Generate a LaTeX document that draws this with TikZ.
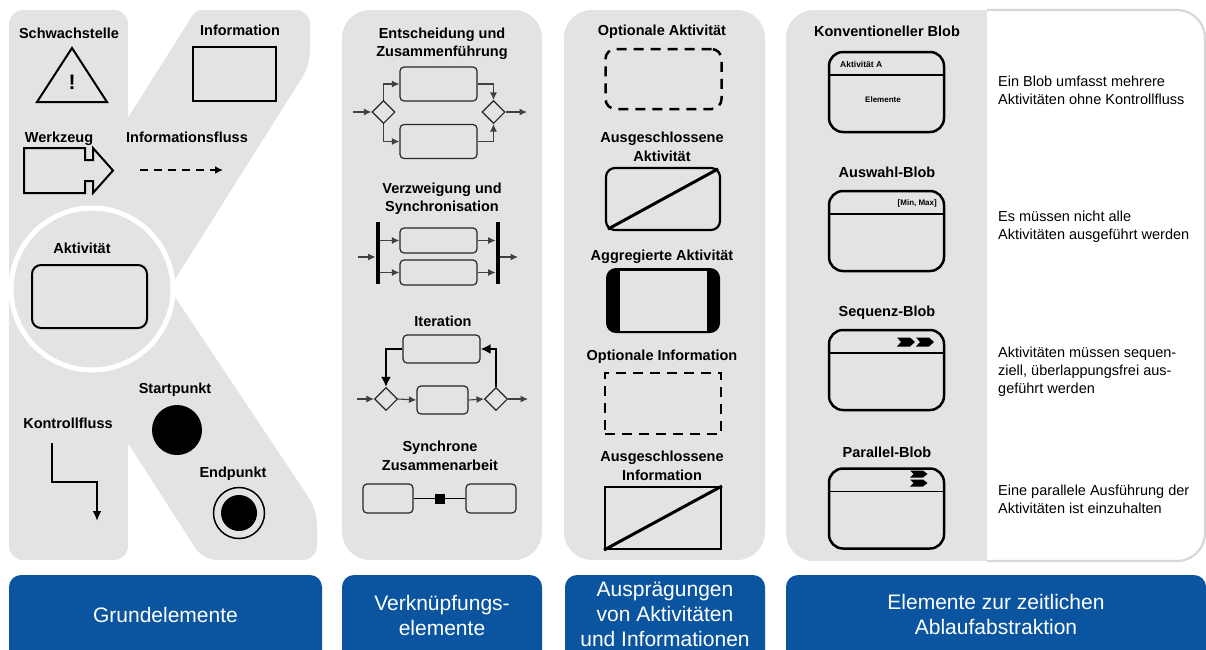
\documentclass[tikz,border=0pt]{standalone}
\usepackage{fontspec}
\setmainfont{Liberation Sans}
\usetikzlibrary{arrows.meta,shapes.geometric}
\definecolor{panelgray}{RGB}{227,227,227}
\definecolor{boxblue}{RGB}{11,85,160}
\definecolor{edgegray}{RGB}{215,215,215}
\begin{document}
\begin{tikzpicture}[x=1pt,y=-1pt,
  lbl/.style={font=\bfseries\fontsize{14.5}{18.5}\selectfont, align=center, inner sep=0pt},
  desc/.style={font=\fontsize{14.5}{18}\selectfont, align=left, inner sep=0pt, anchor=west},
  bluelbl/.style={font=\fontsize{21}{25}\selectfont, text=white, align=center, inner sep=0pt},
  bluebox/.style={fill=boxblue},
  sbox/.style={draw=black!85, line width=1.2pt, rounded corners=4pt, inner sep=0pt},
  gate/.style={diamond, draw=black!85, line width=1.1pt, fill=panelgray, inner sep=0pt, minimum width=23pt, minimum height=23pt},
  conn/.style={draw=black!75, line width=1.1pt, -{Latex[length=7.5pt,width=7pt]}},
  loopc/.style={draw=black, line width=2pt, -{Latex[length=10pt,width=10pt]}},
  bar/.style={fill=black, inner sep=0pt, minimum width=4.5pt, minimum height=62pt},
  thick2/.style={draw, line width=2pt},
  dashbox/.style={draw, line width=2.5pt, dash pattern=on 10pt off 7pt, inner sep=0pt},
  blob/.style={draw, line width=2.5pt, rounded corners=14pt, inner sep=0pt, minimum width=115pt, minimum height=80pt},
  sep/.style={line width=1.5pt},
  small/.style={font=\bfseries\fontsize{8}{9}\selectfont, inner sep=0pt}
]
\useasboundingbox (0,0) rectangle (1206,649);

% ---------- Panel 1: the K ----------
\fill[panelgray, rounded corners=14pt] (9,10) rectangle (128,560);
\fill[panelgray] (253,10) [rounded corners=14pt] -- (310,10) -- (310,65) [sharp corners] -- (172,284) -- (92,289) -- (100,162) [rounded corners=6pt] -- (196,10) -- cycle;
\fill[panelgray] (92,289) -- (172.6,293.5) [rounded corners=14pt] -- (317,510) -- (317,560) -- (203,560) [sharp corners] -- (110,415) -- cycle;
\draw[white, line width=5pt, fill=panelgray] (92,289) circle (81pt);

\node[lbl] (lschw) at (69,33) {Schwachstelle};
\draw[line width=2pt] (72,48) -- (107,102) -- (37,102) -- cycle;
\node[font=\bfseries\fontsize{21}{21}\selectfont, inner sep=0pt] (excl) at (72,82) {!};

\node[lbl] (linfo) at (240,30) {Information};
\node[thick2, minimum width=83pt, minimum height=54pt, inner sep=0pt] (info) at (234.5,74) {};

\node[lbl] (lwerk) at (59,138.5) {Werkzeug};
\draw[line width=2pt] (24,148) -- (85,148) -- (85,160) -- (93,160) -- (93,148) -- (113,170.5) -- (93,193) -- (93,181) -- (85,181) -- (85,193) -- (24,193) -- cycle;

\node[lbl] (lfluss) at (187,137) {Informationsfluss};
\coordinate (f1) at (140,170);
\coordinate (f2) at (223,170);
\draw[line width=2.5pt, dash pattern=on 8pt off 6pt, -{Latex[length=8pt,width=8pt]}] (f1) -- (f2);

\node[lbl] (lakt) at (82,248) {Aktivität};
\node[thick2, rounded corners=9pt, minimum width=115pt, minimum height=63pt, inner sep=0pt] (akt) at (89.5,296.5) {};

\node[lbl] (lkontr) at (68,423) {Kontrollfluss};
\coordinate (k1) at (52,443);
\coordinate (k2) at (97,521);
\draw[line width=2pt, -{Latex[length=10pt,width=9pt]}] (k1) -- ++(0,39) -| (k2);

\node[lbl] (lstart) at (175,389.5) {Startpunkt};
\node[circle, fill=black, minimum size=50pt, inner sep=0pt] (start) at (177,430) {};

\node[lbl] (lend) at (233,473.5) {Endpunkt};
\node[circle, draw, line width=1.5pt, minimum size=51pt, inner sep=0pt] (endo) at (239,513) {};
\node[circle, fill=black, minimum size=36pt, inner sep=0pt] (endi) at (endo) {};

% ---------- Panel 2 ----------
\fill[panelgray, rounded corners=28pt] (342,10) rectangle (542,560);

\node[lbl] (lent) at (442,44) {Entscheidung und\\Zusammenführung};
\node[sbox, minimum width=77pt, minimum height=34pt] (d1) at (438.5,84) {};
\node[sbox, minimum width=77pt, minimum height=34pt] (d2) at (438.5,141.5) {};
\node[gate] (dl) at (383.5,112) {};
\node[gate] (dr) at (493.5,112) {};
\coordinate (din) at (353,112);
\coordinate (dout) at (527,112);
\draw[conn] (din) -- (dl.west);
\draw[conn] (dl.north) |- (d1.west);
\draw[conn] (dl.south) |- (d2.west);
\draw[conn] (d1.east) -| (dr.north);
\draw[conn] (d2.east) -| (dr.south);
\draw[conn] (dr.east) -- (dout);

\node[lbl] (lverz) at (442,198.5) {Verzweigung und\\Synchronisation};
\node[sbox, minimum width=77pt, minimum height=25pt] (v1) at (438.5,240.5) {};
\node[sbox, minimum width=77pt, minimum height=25pt] (v2) at (438.5,272.5) {};
\node[bar] (bl) at (378,253) {};
\node[bar] (br) at (498,253) {};
\coordinate (vin) at (358,257);
\coordinate (vout) at (518,257);
\draw[conn] (vin) -- (bl.west |- vin);
\draw[conn] (bl.east |- v1.west) -- (v1.west);
\draw[conn] (bl.east |- v2.west) -- (v2.west);
\draw[conn] (v1.east) -- (br.west |- v1.east);
\draw[conn] (v2.east) -- (br.west |- v2.east);
\draw[conn] (br.east |- vout) -- (vout);

\node[lbl] (liter) at (443,321) {Iteration};
\node[sbox, minimum width=77pt, minimum height=28pt] (i0) at (441.5,349) {};
\node[sbox, minimum width=51pt, minimum height=28pt] (im) at (442.5,400) {};
\node[gate] (il) at (386,399) {};
\node[gate] (ir) at (496,399) {};
\coordinate (iin) at (357,399);
\coordinate (iout) at (528,399);
\draw[conn] (iin) -- (il.west);
\draw[conn] (il.east) -- (im.west);
\draw[conn] (im.east) -- (ir.west);
\draw[conn] (ir.east) -- (iout);
\draw[loopc] (ir.north) |- (i0.east);
\draw[loopc] (i0.west) -| (il.north);

\node[lbl] (lsync) at (440,456) {Synchrone\\Zusammenarbeit};
\node[sbox, minimum width=50pt, minimum height=29pt] (s1) at (388,498.5) {};
\node[sbox, minimum width=50pt, minimum height=29pt] (s2) at (491,498.5) {};
\draw[line width=1.2pt] (s1.east) -- (s2.west);
\node[fill=black, minimum size=10pt, inner sep=0pt] (sq) at (440,498.5) {};

% ---------- Panel 3 ----------
\fill[panelgray, rounded corners=28pt] (564,10) rectangle (765,560);

\node[lbl] (loa) at (662,31.5) {Optionale Aktivität};
\node[dashbox, rounded corners=10pt, minimum width=116pt, minimum height=60pt] (oa) at (663.5,79) {};

\node[lbl] (lea) at (662,147) {Ausgeschlossene\\Aktivität};
\node[draw, line width=2.2pt, rounded corners=9pt, inner sep=0pt, minimum width=114pt, minimum height=62pt] (ea) at (663,199) {};
\draw[line width=3pt] ([shift={(3pt,2pt)}]ea.south west) -- ([shift={(-3pt,-2pt)}]ea.north east);

\node[lbl] (lag) at (662,257) {Aggregierte Aktivität};
\node[fill=black, rounded corners=10pt, inner sep=0pt, minimum width=114pt, minimum height=65pt] (ag) at (663,300.5) {};
\node[fill=panelgray, inner sep=0pt, minimum width=87pt, minimum height=60pt] (agi) at (663.5,300.5) {};

\node[lbl] (loi) at (662,357) {Optionale Information};
\node[dashbox, minimum width=116pt, minimum height=61pt] (oi) at (663,403.5) {};

\node[lbl] (lei) at (662,466) {Ausgeschlossene\\Information};
\node[draw, line width=2pt, inner sep=0pt, minimum width=116pt, minimum height=62pt] (ei) at (663,518) {};
\draw[line width=3pt] (ei.south west) -- (ei.north east);

% ---------- Panel 4 ----------
\begin{scope}
\clip[rounded corners=28pt] (786,10) rectangle (1205,561);
\fill[white] (786,10) rectangle (1205,561);
\fill[panelgray] (786,10) rectangle (987,561);
\end{scope}
\begin{scope}
\clip (987,0) rectangle (1210,600);
\draw[edgegray, line width=2.2pt, rounded corners=28pt] (786,10) rectangle (1205,561);
\end{scope}

\node[lbl] (lb1) at (887,31) {Konventioneller Blob};
\node[blob] (b1) at (886.5,92) {};
\draw[sep] ([yshift=-24pt]b1.north west) -- ([yshift=-24pt]b1.north east);
\node[small, font=\bfseries\fontsize{8.5}{9}\selectfont, anchor=west] (b1a) at (840,64) {Aktivität A};
\node[small] (b1e) at (883,100) {Elemente};
\node[desc] (t1) at (998,90.5) {Ein Blob umfasst mehrere\\Aktivitäten ohne Kontrollfluss};

\node[lbl] (lb2) at (887,172) {Auswahl-Blob};
\node[blob] (b2) at (886.5,231) {};
\draw[sep] ([yshift=-24pt]b2.north west) -- ([yshift=-24pt]b2.north east);
\node[small, anchor=east] (b2m) at (937,203) {[Min, Max]};
\node[desc] (t2) at (998,227) {Es müssen nicht alle\\Aktivitäten ausgeführt werden};

\node[lbl] (lb3) at (887,313) {Sequenz-Blob};
\node[blob] (b3) at (886.5,370) {};
\draw[sep] ([yshift=-24pt]b3.north west) -- ([yshift=-24pt]b3.north east);
\fill (897,337.5) -- (910,337.5) -- (915,342) -- (910,346.5) -- (897,346.5) -- (901,342) -- cycle;
\fill (916,337.5) -- (929,337.5) -- (934,342) -- (929,346.5) -- (916,346.5) -- (920,342) -- cycle;
\node[desc] (t3) at (998,371.5) {Aktivitäten müssen sequen-\\ziell, überlappungsfrei aus-\\geführt werden};

\node[lbl] (lb4) at (887,452) {Parallel-Blob};
\node[blob] (b4) at (886.5,508.5) {};
\draw[sep] ([yshift=-24pt]b4.north west) -- ([yshift=-24pt]b4.north east);
\fill (910,470.5) -- (923,470.5) -- (927.5,474) -- (923,477.5) -- (910,477.5) -- (913.5,474) -- cycle;
\fill (910,479.5) -- (923,479.5) -- (927.5,483) -- (923,486.5) -- (910,486.5) -- (913.5,483) -- cycle;
\node[desc] (t4) at (998,499) {Eine parallele Ausführung der\\Aktivitäten ist einzuhalten};

% ---------- Bottom blue boxes ----------
\fill[bluebox] (9,665) [rounded corners=12pt] -- (9,575) -- (322,575) [sharp corners] -- (322,665) -- cycle;
\fill[bluebox] (342,665) [rounded corners=12pt] -- (342,575) -- (542,575) [sharp corners] -- (542,665) -- cycle;
\fill[bluebox] (565,665) [rounded corners=12pt] -- (565,575) -- (765,575) [sharp corners] -- (765,665) -- cycle;
\fill[bluebox] (786,665) [rounded corners=12pt] -- (786,575) -- (1206,575) [sharp corners] -- (1206,665) -- cycle;
\node[bluelbl] (g1) at (165.5,614.5) {Grundelemente};
\node[bluelbl] (g2) at (442,615) {Verknüpfungs-\\elemente};
\node[bluelbl] (g3) at (665,614.5) {Ausprägungen\\von Aktivitäten\\und Informationen};
\node[bluelbl] (g4) at (996,614) {Elemente zur zeitlichen\\Ablaufabstraktion};
\end{tikzpicture}
\end{document}
